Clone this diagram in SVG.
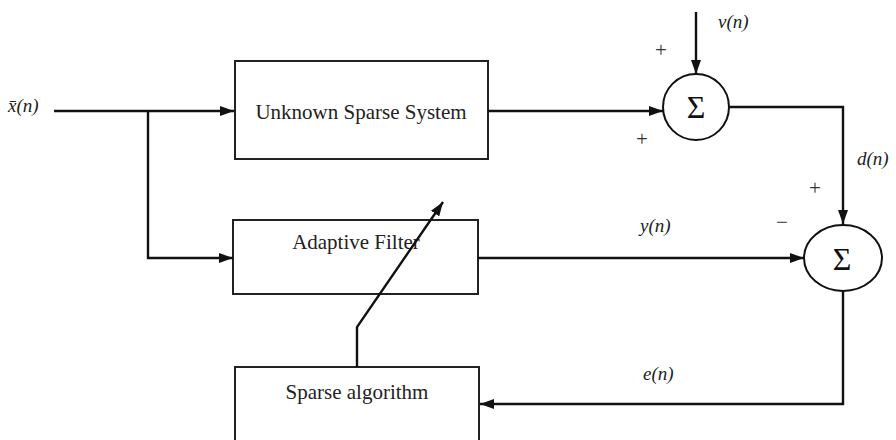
<svg xmlns="http://www.w3.org/2000/svg" width="896" height="440" viewBox="0 0 896 440">
<defs>
<marker id="ah" markerUnits="userSpaceOnUse" markerWidth="14" markerHeight="10" refX="14" refY="5" orient="auto">
<path d="M0,0 L14,5 L0,10 z" fill="#111"/>
</marker>
<style>
.box{fill:#fff;stroke:#222;stroke-width:2}
.wire{fill:none;stroke:#111;stroke-width:2.4}
.lbl{font-family:"Liberation Serif",serif;font-size:21px;fill:#222;text-anchor:middle}
.sig{font-family:"Liberation Serif",serif;font-size:19px;font-style:italic;fill:#222}
.sign{font-family:"Liberation Serif",serif;font-size:21px;fill:#333;text-anchor:middle}
.sum{font-family:"Liberation Serif",serif;font-size:32px;fill:#111;text-anchor:middle}
</style>
</defs>
<rect width="896" height="440" fill="#fff"/>
<g id="unknown">
<rect class="box" x="235" y="61" width="253" height="98"/>
<text class="lbl" x="361" y="119">Unknown Sparse System</text>
</g>
<g id="adaptive">
<rect class="box" x="233" y="220" width="245" height="74"/>
<text class="lbl" x="356" y="249">Adaptive Filter</text>
</g>
<g id="sparse">
<rect class="box" x="235" y="367" width="244" height="80"/>
<text class="lbl" x="357" y="399">Sparse algorithm</text>
</g>
<g id="sum1">
<circle cx="696" cy="107" r="33" fill="#fff" stroke="#111" stroke-width="2"/>
<text class="sum" x="696" y="118">Σ</text>
</g>
<g id="sum2">
<ellipse cx="843" cy="258" rx="39" ry="33" fill="#fff" stroke="#111" stroke-width="2"/>
<text class="sum" x="842" y="270">Σ</text>
</g>
<g id="connectors">
<path class="wire" d="M54,111 H234" marker-end="url(#ah)"/>
<path class="wire" d="M148,111 V258 H233" marker-end="url(#ah)"/>
<path class="wire" d="M488,111 H663" marker-end="url(#ah)"/>
<path class="wire" d="M696,12 V74" marker-end="url(#ah)"/>
<path class="wire" d="M729,107 H843 V224" marker-end="url(#ah)"/>
<path class="wire" d="M478,258 H804" marker-end="url(#ah)"/>
<path class="wire" d="M843,291 V404 H480" marker-end="url(#ah)"/>
<path class="wire" d="M357,367 V327 L443,202" marker-end="url(#ah)"/>
</g>
<g id="labels">
<text class="sig" x="8" y="112">x̄(n)</text>
<text class="sig" x="718" y="28">v(n)</text>
<text class="sig" x="857" y="165">d(n)</text>
<text class="sig" x="640" y="232">y(n)</text>
<text class="sig" x="643" y="380">e(n)</text>
<text class="sign" x="661" y="57">+</text>
<text class="sign" x="642" y="146">+</text>
<text class="sign" x="815" y="195">+</text>
<text class="sign" x="782" y="229">−</text>
</g>
</svg>
